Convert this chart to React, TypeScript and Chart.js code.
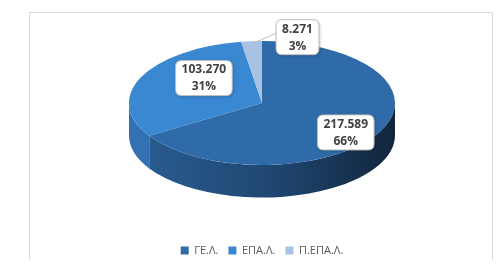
import React, { useEffect, useRef } from "react";
import { Chart, registerables } from "chart.js";

Chart.register(...registerables);

const categories = ["ΓΕ.Λ.", "ΕΠΑ.Λ.", "Π.ΕΠΑ.Λ."];
const values = [217589, 103270, 8271];
const percentLabels = ["66%", "31%", "3%"];
const valueLabels = ["217.589", "103.270", "8.271"];
const topColors = ["#2E6BA8", "#3A87D2", "#A7C2E2"];
const sideColors = [
  ["#2B5E94", "#1F4670", "#12253C"],
  ["#3272B3", "#2D68A4", "#285E95"],
  ["#8FAED3", "#7F9FC6", "#6E8FB8"],
];

const TILT = 0.466; // ry / rx
const DEPTH = 0.245; // depth / rx

function roundRect(ctx: CanvasRenderingContext2D, x: number, y: number, w: number, h: number, r: number) {
  ctx.beginPath();
  ctx.moveTo(x + r, y);
  ctx.lineTo(x + w - r, y);
  ctx.quadraticCurveTo(x + w, y, x + w, y + r);
  ctx.lineTo(x + w, y + h - r);
  ctx.quadraticCurveTo(x + w, y + h, x + w - r, y + h);
  ctx.lineTo(x + r, y + h);
  ctx.quadraticCurveTo(x, y + h, x, y + h - r);
  ctx.lineTo(x, y + r);
  ctx.quadraticCurveTo(x, y, x + r, y);
  ctx.closePath();
}

function geometry(chart: any) {
  const area = chart.chartArea;
  const meta = chart.getDatasetMeta(0);
  const arc0: any = meta.data[0];
  const R = arc0.outerRadius;
  const cx = arc0.x;
  const cy = arc0.y;
  const rx = (area.right - area.left) / 2;
  const ry = rx * TILT;
  const ex = (area.left + area.right) / 2;
  const ey = area.top + ry;
  const depth = rx * DEPTH;
  const project = (x: number, y: number) => ({
    x: ex + ((x - cx) * rx) / R,
    y: ey + ((y - cy) * ry) / R,
  });
  return { meta, R, cx, cy, rx, ry, ex, ey, depth, project };
}

const pie3d = {
  id: "pie3d",
  beforeDatasetsDraw(chart: any) {
    const ctx: CanvasRenderingContext2D = chart.ctx;
    const g = geometry(chart);
    g.meta.data.forEach((arc: any, i: number) => {
      const s = Math.max(arc.startAngle, 0);
      const e = Math.min(arc.endAngle, Math.PI);
      if (e <= s) return;
      const grad = ctx.createLinearGradient(g.ex - g.rx, 0, g.ex + g.rx, 0);
      grad.addColorStop(0, sideColors[i][0]);
      grad.addColorStop(0.55, sideColors[i][1]);
      grad.addColorStop(1, sideColors[i][2]);
      ctx.save();
      ctx.beginPath();
      ctx.ellipse(g.ex, g.ey, g.rx, g.ry, 0, s, e, false);
      ctx.lineTo(g.ex + g.rx * Math.cos(e), g.ey + g.ry * Math.sin(e) + g.depth);
      ctx.ellipse(g.ex, g.ey + g.depth, g.rx, g.ry, 0, e, s, true);
      ctx.closePath();
      ctx.fillStyle = grad;
      ctx.fill();
      ctx.restore();
    });
    ctx.save();
    ctx.translate(g.ex, g.ey);
    ctx.scale(g.rx / g.R, g.ry / g.R);
    ctx.translate(-g.cx, -g.cy);
  },
  afterDatasetsDraw(chart: any) {
    const ctx: CanvasRenderingContext2D = chart.ctx;
    ctx.restore();
    const g = geometry(chart);
    const total = values.reduce((a, b) => a + b, 0);
    ctx.save();
    ctx.font = "bold 12px 'Open Sans', 'DejaVu Sans', sans-serif";
    ctx.textAlign = "center";
    ctx.textBaseline = "middle";
    g.meta.data.forEach((arc: any, i: number) => {
      const mid = (arc.startAngle + arc.endAngle) / 2;
      const share = values[i] / total;
      const w = Math.max(ctx.measureText(valueLabels[i]).width, ctx.measureText(percentLabels[i]).width) + 12;
      const h = 35;
      let px: number;
      let py: number;
      if (share < 0.05) {
        const edge = g.project(g.cx + g.R * Math.cos(mid), g.cy + g.R * Math.sin(mid));
        px = edge.x + 46;
        py = edge.y - 4;
        ctx.strokeStyle = "#BFBFBF";
        ctx.lineWidth = 1;
        ctx.beginPath();
        ctx.moveTo(edge.x + 2, edge.y + 2);
        ctx.lineTo(px - w / 2, py - 4);
        ctx.stroke();
      } else {
        // perspective-adjusted label anchor (x / y radial factors)
        const fx = share > 0.5 ? 0.72 : 0.48;
        const fy = share > 0.5 ? 0.98 : 0.97;
        const p = g.project(g.cx + g.R * fx * Math.cos(mid), g.cy + g.R * fy * Math.sin(mid));
        px = p.x;
        py = p.y;
      }
      ctx.save();
      ctx.shadowColor = "rgba(0,0,0,0.25)";
      ctx.shadowBlur = 3;
      ctx.shadowOffsetX = 1;
      ctx.shadowOffsetY = 1;
      roundRect(ctx, px - w / 2, py - h / 2, w, h, 6);
      ctx.fillStyle = "#FFFFFF";
      ctx.fill();
      ctx.restore();
      roundRect(ctx, px - w / 2, py - h / 2, w, h, 6);
      ctx.strokeStyle = "#BFBFBF";
      ctx.lineWidth = 1;
      ctx.stroke();
      ctx.fillStyle = "#404040";
      ctx.fillText(valueLabels[i], px, py - 8);
      ctx.fillText(percentLabels[i], px, py + 9);
    });
    ctx.restore();
  },
};

export default function App() {
  const ref = useRef<HTMLCanvasElement>(null);
  useEffect(() => {
    if (!ref.current) return;
    const chart = new Chart(ref.current, {
      type: "pie",
      data: {
        labels: categories,
        datasets: [
          {
            data: values,
            backgroundColor: topColors,
            borderWidth: 0,
            clip: false as any,
          },
        ],
      },
      options: {
        animation: false,
        responsive: false,
        events: [],
        layout: { padding: { left: 129, right: 109, top: 41, bottom: 2 } },
        plugins: {
          tooltip: { enabled: false },
          legend: {
            position: "bottom",
            labels: {
              boxWidth: 8,
              boxHeight: 8,
              padding: 10,
              color: "#595959",
              font: { size: 11, family: "'Open Sans', 'DejaVu Sans', sans-serif" },
            },
          },
        },
      },
      plugins: [pie3d],
    });
    return () => chart.destroy();
  }, []);
  return (
    <div style={{ position: "relative", width: 504, height: 268, margin: -8, background: "#FFFFFF" }}>
      <div
        style={{
          position: "absolute",
          left: 29,
          top: 12,
          width: 464,
          height: 253,
          border: "1px solid #D9D9D9",
          boxSizing: "border-box",
        }}
      />
      <canvas ref={ref} width={504} height={268} style={{ position: "absolute", left: 0, top: 0 }} />
    </div>
  );
}
